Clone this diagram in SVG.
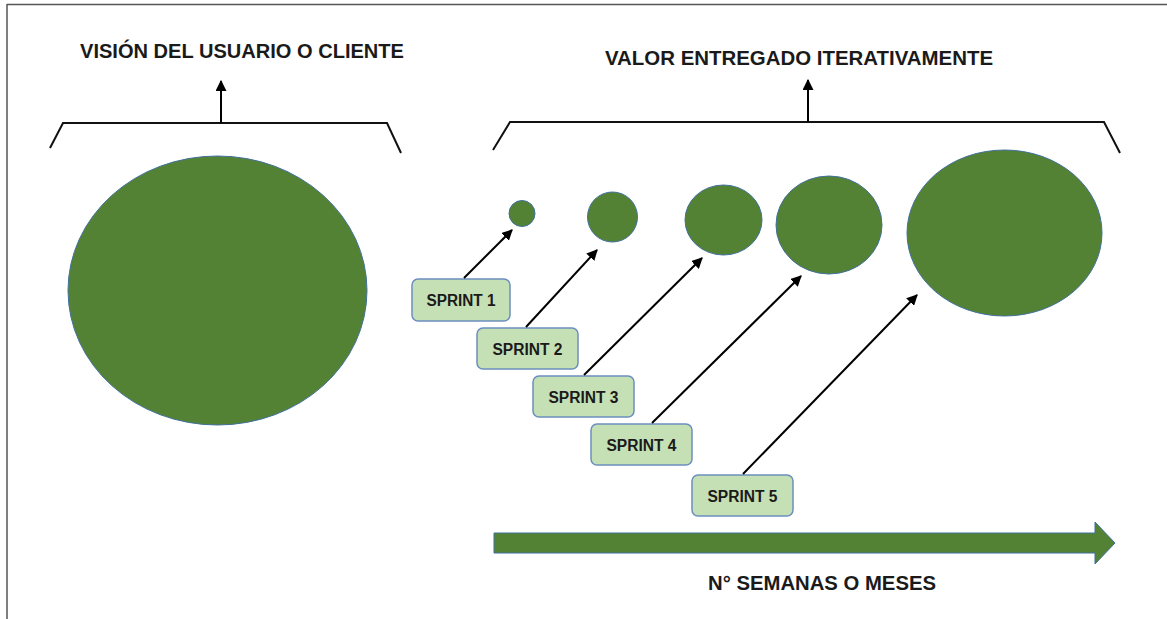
<svg xmlns="http://www.w3.org/2000/svg" width="1167" height="619" viewBox="0 0 1167 619">
<style>
.title{font-family:"Liberation Sans",Arial,sans-serif;font-weight:bold;font-size:20.5px;fill:#1a1a1a}
.lbl{font-family:"Liberation Sans",Arial,sans-serif;font-weight:bold;font-size:16px;fill:#1a1a1a;text-anchor:middle}
.blob{fill:#548235;stroke:#41719C;stroke-width:1}
.box{fill:#C5E0B4;stroke:#6C8EBF;stroke-width:1.5}
.conn{stroke:#000;stroke-width:2;fill:none}
.brk{stroke:#111;stroke-width:2;fill:none}
</style>
<defs>
<marker id="ah" viewBox="0 0 10 10" refX="9" refY="5" markerWidth="5.5" markerHeight="5.5" orient="auto" markerUnits="strokeWidth">
<path d="M0,0 L10,5 L0,10 z" fill="#000"/>
</marker>
</defs>
<rect width="1167" height="619" fill="#fff"/>
<g id="frame">
<line x1="7" y1="4.5" x2="1167" y2="4.5" stroke="#555" stroke-width="1.5"/>
<line x1="7" y1="4" x2="7" y2="619" stroke="#555" stroke-width="1.5"/>
</g>
<g id="vision">
<text class="title" x="80" y="58" textLength="324" lengthAdjust="spacingAndGlyphs">VISIÓN DEL USUARIO O CLIENTE</text>
<ellipse class="blob" cx="217.5" cy="290.5" rx="149.5" ry="134.5"/>
</g>
<g id="valor">
<text class="title" x="605" y="64.5" textLength="388" lengthAdjust="spacingAndGlyphs">VALOR ENTREGADO ITERATIVAMENTE</text>
</g>
<g id="blobs">
<circle id="b1" class="blob" cx="522" cy="213.5" r="13"/>
<circle id="b2" class="blob" cx="612.5" cy="217" r="25"/>
<ellipse id="b3" class="blob" cx="723.5" cy="220" rx="38.5" ry="35"/>
<ellipse id="b4" class="blob" cx="829" cy="225" rx="53" ry="49"/>
<ellipse id="b5" class="blob" cx="1004.5" cy="233" rx="97.5" ry="83"/>
</g>
<g id="sprint1"><rect class="box" x="412" y="279" width="98" height="42" rx="6"/><text class="lbl" x="461" y="306" textLength="69" lengthAdjust="spacingAndGlyphs">SPRINT 1</text></g>
<g id="sprint2"><rect class="box" x="477" y="328" width="101" height="41" rx="6"/><text class="lbl" x="527.5" y="354.5" textLength="70" lengthAdjust="spacingAndGlyphs">SPRINT 2</text></g>
<g id="sprint3"><rect class="box" x="533" y="376" width="101" height="41" rx="6"/><text class="lbl" x="583.5" y="402.5" textLength="70" lengthAdjust="spacingAndGlyphs">SPRINT 3</text></g>
<g id="sprint4"><rect class="box" x="591" y="424" width="101" height="41" rx="6"/><text class="lbl" x="641.5" y="450.5" textLength="70" lengthAdjust="spacingAndGlyphs">SPRINT 4</text></g>
<g id="sprint5"><rect class="box" x="692" y="475" width="101" height="41" rx="6"/><text class="lbl" x="742.5" y="501.5" textLength="70" lengthAdjust="spacingAndGlyphs">SPRINT 5</text></g>
<g id="connectors">
<path class="brk" d="M50,148 L63,123 L387,123 L401,153"/>
<line class="conn" x1="221" y1="123" x2="221" y2="81" marker-end="url(#ah)"/>
<path class="brk" d="M493,150 L510,122 L1104,122 L1120,153"/>
<line class="conn" x1="808" y1="122" x2="808" y2="80" marker-end="url(#ah)"/>
<line class="conn" x1="464" y1="278" x2="512" y2="230" marker-end="url(#ah)"/>
<line class="conn" x1="526" y1="327" x2="597" y2="250" marker-end="url(#ah)"/>
<line class="conn" x1="584" y1="375" x2="702" y2="258" marker-end="url(#ah)"/>
<line class="conn" x1="652" y1="423" x2="801" y2="276" marker-end="url(#ah)"/>
<line class="conn" x1="743" y1="474" x2="917" y2="295" marker-end="url(#ah)"/>
</g>
<g id="timeline">
<path d="M494,533 L1095,533 L1095,522 L1115,543 L1095,564 L1095,553 L494,553 z" fill="#548235" stroke="#41719C" stroke-width="1"/>
<text class="title" x="708" y="590" textLength="228" lengthAdjust="spacingAndGlyphs">N° SEMANAS O MESES</text>
</g>
</svg>
